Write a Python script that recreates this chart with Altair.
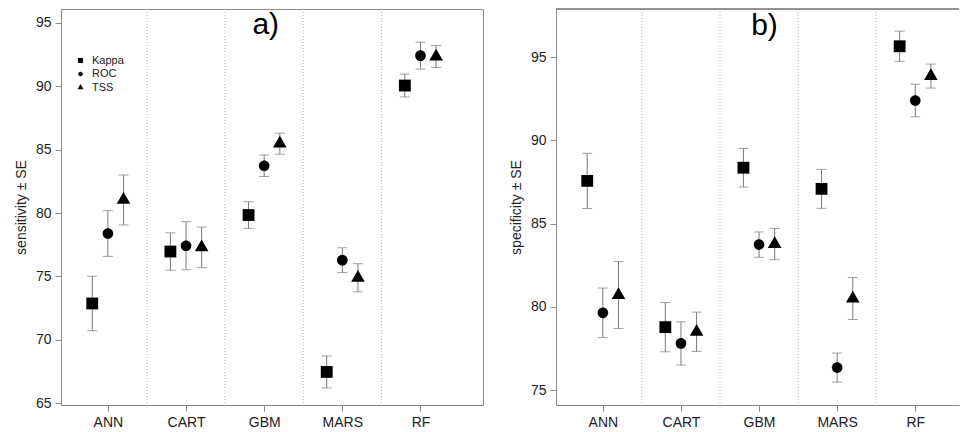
import json
import altair as alt
import pandas as pd

# ---------------- data ----------------
models = ["ANN", "CART", "GBM", "MARS", "RF"]
metrics = ["Kappa", "ROC", "TSS"]
metric_offsets = [-0.2, 0.0, 0.2]

# panel a) sensitivity (mean, SE)
sens_kappa = [72.86, 76.96, 79.84, 67.46, 90.06]
sens_kappa_se = [2.15, 1.48, 1.05, 1.26, 0.90]
sens_roc = [78.38, 77.42, 83.73, 76.28, 92.42]
sens_roc_se = [1.80, 1.90, 0.85, 0.98, 1.06]
sens_tss = [81.03, 77.29, 85.47, 74.89, 92.35]
sens_tss_se = [1.97, 1.60, 0.83, 1.11, 0.87]

# panel b) specificity (mean, SE)
spec_kappa = [87.57, 78.78, 88.36, 87.09, 95.66]
spec_kappa_se = [1.66, 1.48, 1.16, 1.17, 0.91]
spec_roc = [79.64, 77.80, 83.74, 76.35, 92.40]
spec_roc_se = [1.49, 1.30, 0.76, 0.87, 0.98]
spec_tss = [80.71, 78.50, 83.77, 80.50, 93.87]
spec_tss_se = [2.01, 1.18, 0.94, 1.26, 0.72]

separators = [1.5, 2.5, 3.5, 4.5]
panel_labels = ["a)", "b)"]
sens_ticks = [65, 70, 75, 80, 85, 90, 95]
spec_ticks = [75, 80, 85, 90, 95]

FONT = "Liberation Sans"
GRAY = "#8a8a8a"
BAR = "#7a7a7a"

# R-like symbols: square, slightly smaller circle, centroid-centred triangle
SQUARE = "M-1,-1L1,-1L1,1L-1,1Z"
CIRCLE = "M0.9,0A0.9,0.9,0,1,1,-0.9,0A0.9,0.9,0,1,1,0.9,0Z"
TRI = "M0,-1.33L1.15,0.66L-1.15,0.66Z"
shape_range = [SQUARE, CIRCLE, TRI]


def build(vals, ses):
    rows = []
    for m, off, v_list, s_list in zip(metrics, metric_offsets, vals, ses):
        for i, (model, v, s) in enumerate(zip(models, v_list, s_list)):
            rows.append(dict(model=model, metric=m, x=i + 1 + off,
                             mean=v, lo=v - s, hi=v + s))
    return pd.DataFrame(rows)


df_a = build([sens_kappa, sens_roc, sens_tss], [sens_kappa_se, sens_roc_se, sens_tss_se])
df_b = build([spec_kappa, spec_roc, spec_tss], [spec_kappa_se, spec_roc_se, spec_tss_se])
df_sep = pd.DataFrame({"x": separators})

label_expr = json.dumps(models) + "[datum.value - 1]"


def panel(df, ytitle, ydomain, yticks, xdomain, width, height, label, label_pos,
          legend, frame):
    xenc = alt.X("x:Q",
                 scale=alt.Scale(domain=xdomain, nice=False, zero=False),
                 axis=alt.Axis(values=[1, 2, 3, 4, 5], labelExpr=label_expr,
                               title=None, grid=False, labelFlush=False))
    yscale = alt.Scale(domain=ydomain, nice=False, zero=False)
    yaxis = alt.Axis(values=yticks, title=ytitle, grid=False, labelFlush=False)

    sep = alt.Chart(df_sep).mark_rule(color="#b0b0b0", strokeDash=[1, 2],
                                      strokeWidth=1).encode(
        x=alt.X("x:Q", scale=alt.Scale(domain=xdomain, nice=False, zero=False)))

    base = alt.Chart(df)
    bars = base.mark_rule(color=BAR, strokeWidth=1).encode(
        x=xenc, y=alt.Y("lo:Q", scale=yscale, axis=yaxis), y2="hi:Q")
    cap_lo = base.mark_tick(orient="horizontal", size=10, thickness=1,
                            color=BAR).encode(x="x:Q", y="lo:Q")
    cap_hi = base.mark_tick(orient="horizontal", size=10, thickness=1,
                            color=BAR).encode(x="x:Q", y="hi:Q")
    pts = base.mark_point(filled=True, opacity=1, color="black",
                          strokeWidth=0, size=140).encode(
        x="x:Q", y="mean:Q",
        shape=alt.Shape("metric:N",
                        scale=alt.Scale(domain=metrics, range=shape_range),
                        legend=legend))
    txt = alt.Chart(pd.DataFrame({"t": [label], "x": [label_pos[0]],
                                  "y": [label_pos[1]]})).mark_text(
        fontSize=30, font=FONT, color="black", baseline="middle",
        align="center").encode(x="x:Q", y="y:Q", text="t:N")

    layers = [sep, bars, cap_lo, cap_hi, pts, txt]
    if not frame:
        top = alt.Chart(df_sep).mark_rule(color=GRAY, strokeWidth=1).encode(
            y=alt.value(0), x=alt.value(0), x2=alt.value(width))
        layers.append(top)
    ch = alt.layer(*layers).properties(width=width, height=height)
    if frame:
        ch = ch.properties(view=alt.ViewBackground(stroke=GRAY))
    else:
        ch = ch.properties(view=alt.ViewBackground(stroke="transparent"))
    return ch


H = 396
legend_a = alt.Legend(title=None, orient="none", legendX=14, legendY=46,
                      symbolSize=26, symbolFillColor="black",
                      symbolStrokeWidth=0, labelFontSize=11, labelFont=FONT,
                      labelColor="#222", labelOffset=6, rowPadding=1.5,
                      padding=0)

pa = panel(df_a, "sensitivity ± SE", [64.85, 96.1], sens_ticks, [0.4, 5.8],
           422, H, panel_labels[0], (3.02, 94.8), legend_a, True)
pb = panel(df_b, "specificity ± SE", [74.1, 97.9], spec_ticks, [0.4, 5.56],
           403, H, panel_labels[1], (3.07, 96.9), None, False)

chart = alt.hconcat(pa, pb, spacing=24).resolve_scale(
    shape="independent").resolve_legend(
    shape="independent").properties(
    padding={"left": 5, "top": 0, "right": 0, "bottom": 0}
).configure_axis(
    domainColor=GRAY, tickColor=GRAY, tickSize=6, labelPadding=4,
    labelFont=FONT, labelFontSize=14, labelColor="#222",
    titleFont=FONT, titleFontSize=14, titleColor="#222",
    titleFontWeight="normal", titlePadding=7
).configure_view(stroke=GRAY)

chart.save("out.html", embed_options={"renderer": "svg", "actions": False})
